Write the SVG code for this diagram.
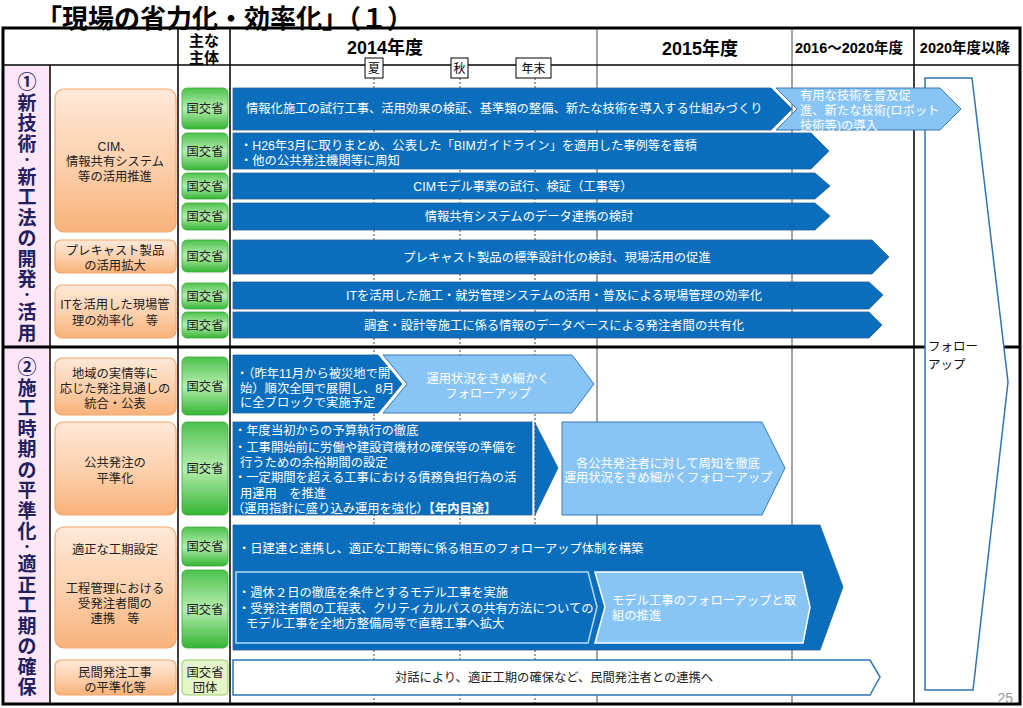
<svg xmlns="http://www.w3.org/2000/svg" width="1023" height="708" viewBox="0 0 1023 708">
<defs>
<linearGradient id="gOrg" x1="0" y1="0" x2="0" y2="1">
<stop offset="0" stop-color="#fee9d9"/><stop offset="0.55" stop-color="#fccfaa"/><stop offset="1" stop-color="#f8b27a"/>
</linearGradient>
<linearGradient id="gGrn" x1="0" y1="0" x2="0" y2="1">
<stop offset="0" stop-color="#4ec24e"/><stop offset="0.5" stop-color="#b6eeae"/><stop offset="1" stop-color="#34b534"/>
</linearGradient>
<style>
text{font-family:'Liberation Sans','Noto Sans CJK JP',sans-serif;}
.org{fill:url(#gOrg);stroke:#f3a66a;stroke-width:1.2;}
.grn{fill:url(#gGrn);stroke:#3aa83a;stroke-width:0.8;}
.dk{fill:#0a6ebd;stroke:#2a5f95;stroke-width:0.8;}
.lt{fill:#88c5f5;stroke:#3a78b3;stroke-width:1;}
.t12{font-size:12.3px;fill:#222;}
.tw{font-size:12.3px;fill:#fff;}
.tg{font-size:12.3px;fill:#222;text-anchor:middle;}
.tc{text-anchor:middle;}
.sec{font-size:19px;font-weight:bold;fill:#22205e;text-anchor:middle;}
.sd{font-size:12px;}
.hd{font-weight:bold;fill:#000;text-anchor:middle;}
.dot{stroke:#444;stroke-width:1;stroke-dasharray:2 2;}
.gl{stroke:#666;stroke-width:1.2;}
.bl{stroke:#000;stroke-width:1.5;}
.tick{fill:#fff;stroke:#000;stroke-width:1;}
</style>
</defs>

<text x="36" y="28" font-size="26" font-weight="bold" fill="#000">「現場の省力化・効率化」（１）</text>

<g id="grid">
<rect x="4.5" y="66" width="45" height="637" fill="#fde6f8"/>
<line class="dot" x1="374" y1="78" x2="374" y2="703"/>
<line class="dot" x1="460" y1="78" x2="460" y2="703"/>
<line class="dot" x1="535" y1="78" x2="535" y2="703"/>
<line class="gl" x1="597" y1="28" x2="597" y2="704"/>
<line class="gl" x1="792" y1="28" x2="792" y2="704"/>
<line class="bl" x1="914" y1="28" x2="914" y2="704"/>
<line class="bl" x1="50" y1="65" x2="50" y2="704"/>
<line class="bl" x1="178" y1="28" x2="178" y2="704"/>
<line class="bl" x1="230" y1="28" x2="230" y2="704"/>
<line class="bl" x1="3" y1="65" x2="1020" y2="65"/>
<line x1="3" y1="347" x2="1020" y2="347" stroke="#000" stroke-width="3"/>
<rect x="3" y="28" width="1017" height="676" fill="none" stroke="#000" stroke-width="3"/>
</g>

<g id="header">
<text class="hd" x="204" y="46" font-size="15">主な</text>
<text class="hd" x="204" y="63" font-size="15">主体</text>
<text class="hd" x="385" y="54" font-size="18">2014年度</text>
<text class="hd" x="700" y="55" font-size="18">2015年度</text>
<text class="hd" x="849" y="53" font-size="14.5">2016～2020年度</text>
<text class="hd" x="965" y="53" font-size="14.5">2020年度以降</text>
<rect class="tick" x="365" y="58" width="18" height="20"/>
<text x="374" y="72.5" font-size="12" class="tc">夏</text>
<rect class="tick" x="451" y="58" width="17" height="20"/>
<text x="459.5" y="72.5" font-size="12" class="tc">秋</text>
<rect class="tick" x="516" y="58" width="35" height="20"/>
<text x="533.5" y="72.5" font-size="12" class="tc">年末</text>
</g>

<g id="section1-label">
<text class="sec" x="27"><tspan x="27" y="89">①</tspan><tspan x="27" y="109.5">新</tspan><tspan x="27" y="130">技</tspan><tspan x="27" y="150.5">術</tspan><tspan class="sd" x="27" y="164.6">・</tspan><tspan x="27" y="183.5">新</tspan><tspan x="27" y="204">工</tspan><tspan x="27" y="224.5">法</tspan><tspan x="27" y="245">の</tspan><tspan x="27" y="265.5">開</tspan><tspan x="27" y="286">発</tspan><tspan class="sd" x="27" y="300.1">・</tspan><tspan x="27" y="319">活</tspan><tspan x="27" y="339.5">用</tspan></text>
</g>
<g id="section2-label">
<text class="sec" x="27"><tspan x="27" y="374">②</tspan><tspan x="27" y="394.5">施</tspan><tspan x="27" y="415">工</tspan><tspan x="27" y="435.5">時</tspan><tspan x="27" y="456">期</tspan><tspan x="27" y="476.5">の</tspan><tspan x="27" y="497">平</tspan><tspan x="27" y="517.5">準</tspan><tspan x="27" y="538">化</tspan><tspan class="sd" x="27" y="552.1">・</tspan><tspan x="27" y="571">適</tspan><tspan x="27" y="591.5">正</tspan><tspan x="27" y="612">工</tspan><tspan x="27" y="632.5">期</tspan><tspan x="27" y="653">の</tspan><tspan x="27" y="673.5">確</tspan><tspan x="27" y="694">保</tspan></text>
</g>

<g id="item-cim">
<rect class="org" x="55" y="89" width="121" height="143" rx="9"/>
<text class="tg" x="115" y="151">CIM、</text>
<text class="tg" x="115" y="166">情報共有システム</text>
<text class="tg" x="115" y="181">等の活用推進</text>
</g>
<g id="item-precast">
<rect class="org" x="55" y="240" width="121" height="33" rx="6"/>
<text class="tg" x="115" y="254.5">プレキャスト製品</text>
<text class="tg" x="115" y="269.5">の活用拡大</text>
</g>
<g id="item-it">
<rect class="org" x="55" y="285" width="121" height="53" rx="7"/>
<text class="tg" x="115" y="308.5">ITを活用した現場管</text>
<text class="tg" x="115" y="324.5">理の効率化　等</text>
</g>
<g id="item-chiiki">
<rect class="org" x="55" y="358" width="121" height="57" rx="7"/>
<text class="tg" x="115" y="377.5">地域の実情等に</text>
<text class="tg" x="115" y="392.5">応じた発注見通しの</text>
<text class="tg" x="115" y="407.5">統合・公表</text>
</g>
<g id="item-koukyou">
<rect class="org" x="55" y="422" width="121" height="93" rx="8"/>
<text class="tg" x="115" y="466.5">公共発注の</text>
<text class="tg" x="115" y="482.5">平準化</text>
</g>
<g id="item-kouki">
<rect class="org" x="55" y="527" width="121" height="121" rx="9"/>
<text class="tg" x="115" y="553.5">適正な工期設定</text>
<text class="tg" x="115" y="592.5">工程管理における</text>
<text class="tg" x="115" y="607.5">受発注者間の</text>
<text class="tg" x="115" y="622.5">連携　等</text>
</g>
<g id="item-minkan">
<rect class="org" x="55" y="660" width="121" height="35" rx="6"/>
<text class="tg" x="115" y="676.5">民間発注工事</text>
<text class="tg" x="115" y="691.5">の平準化等</text>
</g>

<g id="actors">
<rect class="grn" x="182" y="88" width="46" height="41" rx="5"/><text class="tg" x="205" y="113">国交省</text>
<rect class="grn" x="182" y="133" width="46" height="37" rx="5"/><text class="tg" x="205" y="156">国交省</text>
<rect class="grn" x="182" y="173" width="46" height="26" rx="5"/><text class="tg" x="205" y="190.5">国交省</text>
<rect class="grn" x="182" y="203" width="46" height="27" rx="5"/><text class="tg" x="205" y="221">国交省</text>
<rect class="grn" x="182" y="240" width="46" height="32" rx="5"/><text class="tg" x="205" y="260.5">国交省</text>
<rect class="grn" x="182" y="283" width="46" height="26" rx="5"/><text class="tg" x="205" y="300.5">国交省</text>
<rect class="grn" x="182" y="312" width="46" height="26" rx="5"/><text class="tg" x="205" y="329.5">国交省</text>
<rect class="grn" x="182" y="357" width="46" height="58" rx="5"/><text class="tg" x="205" y="390.5">国交省</text>
<rect class="grn" x="182" y="422" width="46" height="93" rx="5"/><text class="tg" x="205" y="472.5">国交省</text>
<rect class="grn" x="182" y="527" width="46" height="39" rx="5"/><text class="tg" x="205" y="551">国交省</text>
<rect class="grn" x="182" y="570" width="46" height="78" rx="5"/><text class="tg" x="205" y="613.5">国交省</text>
<rect x="182" y="660" width="46" height="35" rx="4" fill="#e4f5c6" stroke="#9ccc6c" stroke-width="1"/>
<text class="tg" x="205" y="676.5">国交省</text><text class="tg" x="205" y="692">団体</text>
</g>

<g id="connectors">
<polygon points="925,78 972,78 1008,382 973,690 925,690" fill="#fff" stroke="#2e75b6" stroke-width="1.5"/>
<text x="928" y="351" font-size="12.5" fill="#111">フォロー</text>
<text x="928" y="369" font-size="12.5" fill="#111">アップ</text>

<polygon class="dk" points="233,88 771,88 792,109 771,130 233,130"/>
<text class="tw" x="246" y="112.5" font-size="12.5">情報化施工の試行工事、活用効果の検証、基準類の整備、新たな技術を導入する仕組みづくり</text>
<polygon class="lt" points="776,88 940,88 961,109 940,130 776,130 797,109"/>
<text class="tw" x="800" y="99.5">有用な技術を普及促</text>
<text class="tw" x="800" y="114.5">進、新たな技術(ロボット</text>
<text class="tw" x="800" y="129.5">技術等)の導入</text>

<polygon class="dk" points="233,133 811,133 829,151 811,169 233,169"/>
<text class="tw" x="240" y="149.5" font-size="11.5">・H26年3月に取りまとめ、公表した「BIMガイドライン」を適用した事例等を蓄積</text>
<text class="tw" x="240" y="164.5" font-size="11.5">・他の公共発注機関等に周知</text>

<polygon class="dk" points="233,173 815,173 830,186 815,199 233,199"/>
<text class="tw tc" x="523" y="190.5">CIMモデル事業の試行、検証（工事等）</text>
<polygon class="dk" points="233,203 815,203 830,216 815,230 233,230"/>
<text class="tw tc" x="529" y="220.5">情報共有システムのデータ連携の検討</text>
<polygon class="dk" points="233,240 872,240 889,257 872,274 233,274"/>
<text class="tw tc" x="557" y="261.5">プレキャスト製品の標準設計化の検討、現場活用の促進</text>
<polygon class="dk" points="233,282 869,282 883,295 869,309 233,309"/>
<text class="tw tc" x="554" y="299.5">ITを活用した施工・就労管理システムの活用・普及による現場管理の効率化</text>
<polygon class="dk" points="233,312 869,312 882,325 869,338 233,338"/>
<text class="tw tc" x="554" y="329.5">調査・設計等施工に係る情報のデータベースによる発注者間の共有化</text>

<polygon class="dk" points="233,355 378,355 402,384 378,413 233,413"/>
<text class="tw" x="236" y="377.5" font-size="11.5">・（昨年11月から被災地で開</text>
<text class="tw" x="240" y="392.5" font-size="11.5">始）順次全国で展開し、8月</text>
<text class="tw" x="240" y="406.5" font-size="11.5">に全ブロックで実施予定</text>
<polygon class="lt" points="383,355 572,355 594,384 572,413 383,413 407,384"/>
<text class="tw tc" x="488" y="382.5">運用状況をきめ細かく</text>
<text class="tw tc" x="488" y="397.5">フォローアップ</text>

<rect class="dk" x="233" y="422" width="299" height="93"/>
<polygon class="dk" points="535,423 558,468 535,515"/>
<g class="tw" font-size="12.5">
<text x="234" y="434.5">・年度当初からの予算執行の徹底</text>
<text x="234" y="451.5">・工事開始前に労働や建設資機材の確保等の準備を</text>
<text x="240" y="466.5">行うための余裕期間の設定</text>
<text x="234" y="481.5">・一定期間を超える工事における債務負担行為の活</text>
<text x="240" y="497.5">用運用　を推進</text>
<text x="232" y="512.5">（運用指針に盛り込み運用を強化）<tspan font-weight="bold">【年内目途】</tspan></text>
</g>
<polygon class="lt" points="562,422 762,422 785,468 762,515 562,515"/>
<text class="tw tc" x="668" y="467.5">各公共発注者に対して周知を徹底</text>
<text class="tw tc" x="668" y="481.5">運用状況をきめ細かくフォローアップ</text>

<polygon class="dk" points="233,525 820,525 843,587 820,650 233,650"/>
<text class="tw" x="238" y="552.5" font-size="12">・日建連と連携し、適正な工期等に係る相互のフォローアップ体制を構築</text>
<polygon points="236,572 588,572 597,607 588,643 236,643" fill="#0a6ebd" stroke="#b5daf5" stroke-width="1.5"/>
<text class="tw" x="238" y="596.5" font-size="12">・週休２日の徹底を条件とするモデル工事を実施</text>
<text class="tw" x="238" y="612.5" font-size="12">・受発注者間の工程表、クリティカルパスの共有方法についての</text>
<text class="tw" x="246" y="627.5" font-size="12">モデル工事を全地方整備局等で直轄工事へ拡大</text>
<polygon points="595,572 802,572 810,607 803,643 595,643 605,607" fill="#88c5f5" stroke="#fff" stroke-width="1.5"/>
<text class="tw" x="612" y="604.5" font-size="12">モデル工事のフォローアップと取</text>
<text class="tw" x="612" y="619.5" font-size="12">組の推進</text>

<polygon points="233,660 870,660 880,677 870,695 233,695" fill="#fff" stroke="#2e75b6" stroke-width="1.5"/>
<text class="t12 tc" x="554" y="681.5">対話により、適正工期の確保など、民間発注者との連携へ</text>
</g>

<text x="1013" y="703" font-size="14" fill="#9a9a9a" text-anchor="end">25</text>
</svg>
